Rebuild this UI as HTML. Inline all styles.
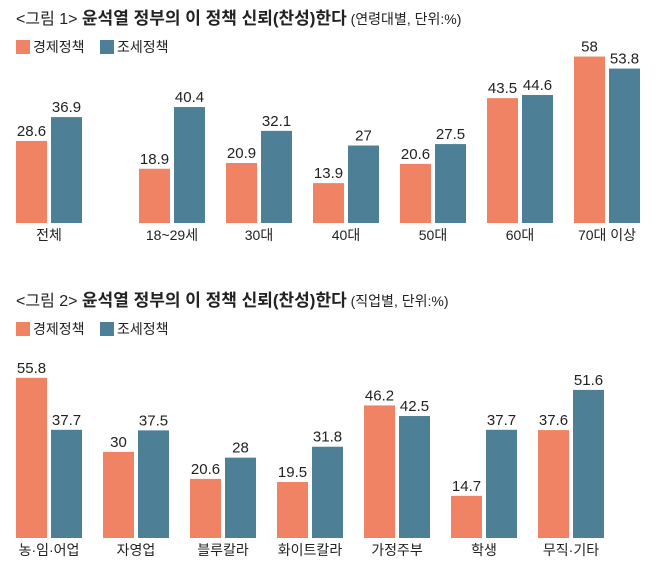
<!DOCTYPE html>
<html><head><meta charset="utf-8"><style>
body{margin:0;background:#fff;width:658px;height:574px;overflow:hidden}
svg text{font-family:"Liberation Sans","Noto Sans CJK KR",sans-serif;fill:#222}
</style></head><body>
<svg id="c" width="658" height="574"></svg>
<script>
const cats1=["전체","18~29세","30대","40대","50대","60대","70대 이상"];
const econ1=[28.6,18.9,20.9,13.9,20.6,43.5,58];
const tax1=[36.9,40.4,32.1,27,27.5,44.6,53.8];
const cats2=["농·임·어업","자영업","블루칼라","화이트칼라","가정주부","학생","무직·기타"];
const econ2=[55.8,30,20.6,19.5,46.2,14.7,37.6];
const tax2=[37.7,37.5,28,31.8,42.5,37.7,51.6];
const groupX1=[16,139,226,313,400,487,574];
const groupX2=[16,103,190,277,364,451,538];
const NS="http://www.w3.org/2000/svg",svg=document.getElementById('c');
const OR="#ef8363",BL="#4d7f96",SC=2.87,BW=31,GAP=4;
function mk(t,a,p){const e=document.createElementNS(NS,t);for(const k in a)e.setAttribute(k,a[k]);(p||svg).appendChild(e);return e}
function txt(x,y,s,sz,w,anchor){const e=mk('text',{x:x,y:y,'font-size':sz,'font-weight':w||'normal','text-anchor':anchor||'start'});e.textContent=s;return e}
function y(v,base){return base-v*SC}
function header(ty,num,sub){
 const t=mk('text',{x:16,y:ty,'font-size':16});
 const a=mk('tspan',{},t);a.textContent="<그림 "+num+"> ";
 const b=mk('tspan',{'font-weight':'bold','font-size':17},t);b.textContent="윤석열 정부의 이 정책 신뢰(찬성)한다";
 const c=mk('tspan',{'font-size':14},t);c.textContent=" "+sub;
 
 
 const ly=ty+16;
 const l1=mk('rect',{x:16,y:ly,width:14,height:14,fill:OR});
 
 
 const lt1=txt(33,ly+12,"경제정책",14);
 
 
 const l2=mk('rect',{x:100,y:ly,width:14,height:14,fill:BL});
 
 
 const lt2=txt(117,ly+12,"조세정책",14);
 
 
}
function chart(cats,e,t,gx,base,labY,id){
 cats.forEach((c,i)=>{
  const x=gx[i];
  [[e[i],OR,x,'econ'],[t[i],BL,x+BW+GAP,'tax']].forEach(([v,col,bx,n])=>{
   const r=mk('rect',{x:bx,y:y(v,base),width:BW,height:v*SC,fill:col});
   
   
   const l=txt(bx+BW/2,y(v,base)-5,String(v),15,'normal','middle');
   
   
  });
  const cl=txt(x+BW+GAP/2,labY,c,14,'normal','middle');
  
  
 });
}
header(24,1,"(연령대별, 단위:%)");
chart(cats1,econ1,tax1,groupX1,223,240,'chart1');
header(306,2,"(직업별, 단위:%)");
chart(cats2,econ2,tax2,groupX2,538,555,'chart2');
</script>
</body></html>
